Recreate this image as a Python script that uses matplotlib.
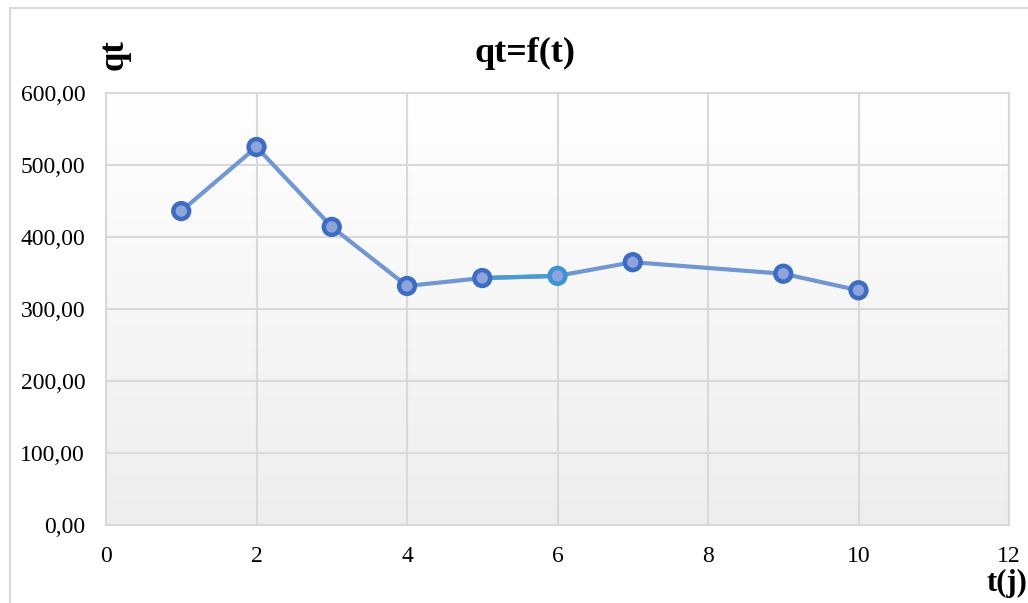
import numpy as np
import matplotlib.pyplot as plt
from matplotlib.patches import Rectangle

# ================= DATA =================
t_days = [1, 2, 3, 4, 5, 6, 7, 9, 10]
qt = [436, 525, 414, 332, 343, 346, 365, 349, 326]
x_ticks = [0, 2, 4, 6, 8, 10, 12]
y_ticks = [0, 100, 200, 300, 400, 500, 600]

plt.rcParams['font.family'] = ['Liberation Serif', 'DejaVu Serif']

LINE = "#7096d4"
LINE_HI = "#4b9bd2"
FACE = "#8fa4da"
EDGE = "#3d6cc3"
EDGE_HI = "#3b95d3"
GRID = "#d9d9d9"

fig = plt.figure(figsize=(10.28, 6.03), dpi=100)
ax = fig.add_axes([106 / 1028, 1 - 525 / 603, (1009 - 106) / 1028, (525 - 93) / 603])

# outer chart frame
fig.patches.append(Rectangle((10 / 1028, -0.2), 1.2, 1.2 - 8 / 603, transform=fig.transFigure,
                             fill=False, edgecolor=GRID, linewidth=1.5))

# vertical gradient in the plot area
grad = np.linspace(1, 0, 256).reshape(-1, 1)
ax.imshow(grad, extent=[0, 1, 0, 1], transform=ax.transAxes, aspect='auto',
          cmap=plt.matplotlib.colors.LinearSegmentedColormap.from_list("bg", ["#eeeeee", "#ffffff"]),
          zorder=0)

ax.set_xlim(0, 12)
ax.set_ylim(0, 600)
ax.set_xticks(x_ticks)
ax.set_yticks(y_ticks)
ax.set_yticklabels([f"{v:.2f}".replace(".", ",") for v in y_ticks])
ax.grid(True, color=GRID, linewidth=1.5, zorder=1)
for s in ax.spines.values():
    s.set_color(GRID)
    s.set_linewidth(1.5)
ax.tick_params(length=0, labelsize=17)
ax.tick_params(axis='y', pad=15)
ax.tick_params(axis='x', pad=15)

# ========== SERIES ==========
ax.plot(t_days, qt, color=LINE, linewidth=3, zorder=3)
ax.plot(t_days[4:6], qt[4:6], color=LINE_HI, linewidth=3, zorder=3)
edges = [EDGE_HI if t == 6 else EDGE for t in t_days]
ax.scatter(t_days, qt, s=130, facecolor=FACE, edgecolor=edges, linewidth=3.2, zorder=4)

# ========== LABELS ==========
fig.text(525 / 1028, 1 - 53 / 603, "qt=f(t)", ha='center', va='center',
         fontsize=26, fontweight='bold')
fig.text(114 / 1028, 1 - 55 / 603, "qt", ha='center', va='center', rotation=90,
         fontsize=25, fontweight='bold')
fig.text(1007 / 1028, 1 - 583 / 603, "t(j)", ha='center', va='center',
         fontsize=22, fontweight='bold')

plt.savefig("out.png", dpi=100)
plt.close()
